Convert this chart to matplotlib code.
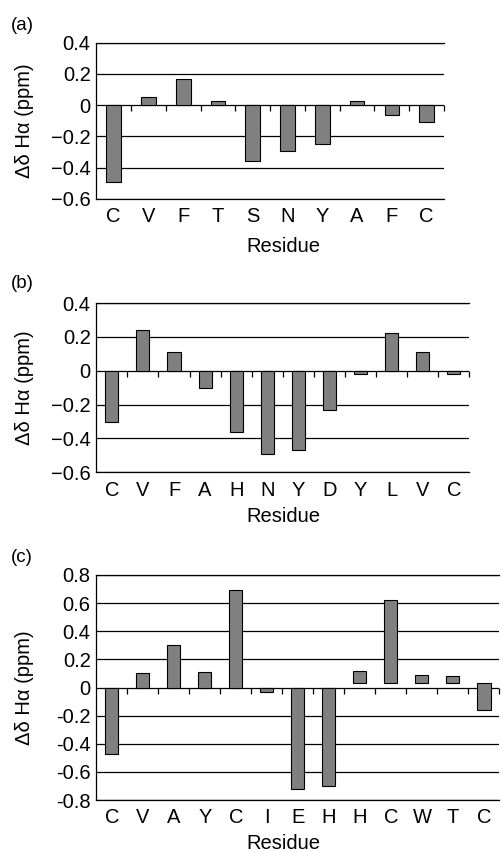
import matplotlib
matplotlib.use('Agg')
import matplotlib.pyplot as plt

plt.rcParams['font.family'] = ['Liberation Sans', 'DejaVu Sans']

# panel (a)
residues_a = ['C', 'V', 'F', 'T', 'S', 'N', 'Y', 'A', 'F', 'C']
shift_a = [-0.49, 0.05, 0.17, 0.03, -0.36, -0.29, -0.25, 0.03, -0.06, -0.11]
yticks_a = [-0.6, -0.4, -0.2, 0, 0.2, 0.4]
ylabels_a = ['\u22120.6', '\u22120.4', '\u22120.2', '0', '0.2', '0.4']

# panel (b)
residues_b = ['C', 'V', 'F', 'A', 'H', 'N', 'Y', 'D', 'Y', 'L', 'V', 'C']
shift_b = [-0.30, 0.24, 0.11, -0.10, -0.36, -0.49, -0.47, -0.23, -0.02, 0.22, 0.11, -0.02]
yticks_b = yticks_a
ylabels_b = ylabels_a

# panel (c) - last five bars start slightly above zero in the original
residues_c = ['C', 'V', 'A', 'Y', 'C', 'I', 'E', 'H', 'H', 'C', 'W', 'T', 'C']
shift_c = [-0.47, 0.10, 0.30, 0.11, 0.69, -0.03, -0.72, -0.70, 0.12, 0.62, 0.09, 0.08, -0.16]
base_c = [0, 0, 0, 0, 0, 0, 0, 0, 0.03, 0.03, 0.03, 0.03, 0.03]
yticks_c = [-0.8, -0.6, -0.4, -0.2, 0, 0.2, 0.4, 0.6, 0.8]
ylabels_c = ['-0.8', '-0.6', '-0.4', '-0.2', '0', '0.2', '0.4', '0.6', '0.8']

W, H = 501, 852
fig = plt.figure(figsize=(W / 100, H / 100), dpi=100)
FS = 14.5


def panel(rect_px, tag, tag_y, residues, values, bases, yticks, ylabels, res_y):
    left, top, right, bottom = rect_px
    ax = fig.add_axes([left / W, 1 - bottom / H, (right - left) / W, (bottom - top) / H])
    n = len(residues)
    x = list(range(n))
    heights = [v - b for v, b in zip(values, bases)]
    ax.bar(x, heights, bottom=bases, width=0.42, color='#808080', edgecolor='black', linewidth=0.8, zorder=3)
    ax.set_xlim(-0.5, n - 0.5)
    ax.set_ylim(yticks[0], yticks[-1])
    ax.set_yticks(yticks)
    ax.set_yticklabels(ylabels)
    ax.set_xticks(x)
    ax.set_xticklabels(residues)
    ax.tick_params(axis='y', length=0, pad=4, labelsize=FS)
    ax.tick_params(axis='x', length=0, pad=6, labelsize=FS)
    ax.spines['right'].set_visible(False)
    for s in ['left', 'top', 'bottom']:
        ax.spines[s].set_linewidth(0.9)
    ax.grid(axis='y', color='black', linewidth=0.9, zorder=1)
    ax.set_axisbelow(True)
    # category separator ticks on the zero line
    bounds = [i + 0.5 for i in range(n)]
    ax.plot(bounds, [0] * n, linestyle='none', marker=3, markersize=4, color='black',
            markeredgewidth=0.9, clip_on=False, zorder=4)
    fig.text(283 / W, 1 - res_y / H, 'Residue', ha='center', va='center', fontsize=FS)
    fig.text(24 / W, 1 - (top + bottom) / 2 / H, '\u0394\u03b4 H\u03b1 (ppm)', rotation=90,
             ha='center', va='center', fontsize=14.5)
    fig.text(11 / W, 1 - tag_y / H, tag, ha='left', va='center', fontsize=13.5)
    return ax


panel((96.3, 42.7, 444, 199), '(a)', 25, residues_a, shift_a, [0] * len(shift_a),
      yticks_a, ylabels_a, 246.7)
panel((96.3, 303, 469.3, 472.3), '(b)', 284, residues_b, shift_b, [0] * len(shift_b),
      yticks_b, ylabels_b, 516.7)
panel((96.3, 575, 499.5, 800), '(c)', 558, residues_c, shift_c, base_c,
      yticks_c, ylabels_c, 843.3)

fig.savefig('out.png', dpi=100)
